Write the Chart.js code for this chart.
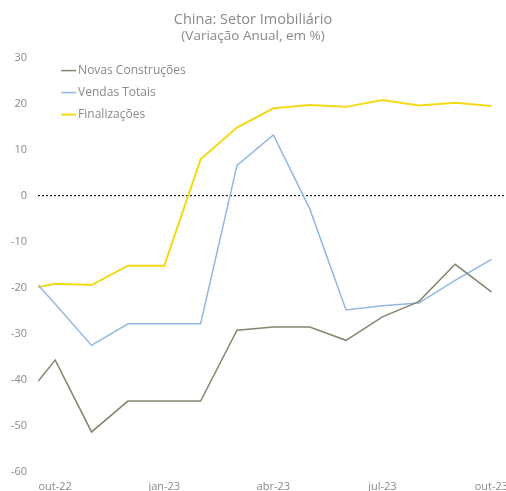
<!DOCTYPE html>
<html>
<head>
<meta charset="utf-8">
<script src="https://cdn.jsdelivr.net/npm/chart.js@4/dist/chart.umd.min.js"></script>
<style>
  html, body { margin: 0; padding: 0; background: #fff; }
  #wrap { width: 506px; height: 491px; }
</style>
</head>
<body>
<div id="wrap"><canvas id="grafico"></canvas></div>
<script>
// meses: índice 0 = out-22 ... 12 = out-23 (primeiro ponto fica meio mês antes)
const meses = [-0.47, 0, 1, 2, 3, 4, 5, 6, 7, 8, 9, 10, 11, 12];
const rotulosPos = [0, 3, 6, 9, 12];
const rotulos = ['out-22', 'jan-23', 'abr-23', 'jul-23', 'out-23'];

const novasConstrucoes = [-40.3, -35.7, -51.3, -44.6, -44.6, -44.6, -29.2, -28.5, -28.5, -31.4, -26.3, -23.0, -14.9, -20.9];
const vendasTotais = [-19.4, -23.5, -32.5, -27.8, -27.8, -27.8, 6.6, 13.2, -2.8, -24.8, -23.9, -23.3, -18.4, -13.8];
const finalizacoes = [-19.8, -19.1, -19.4, -15.2, -15.2, 7.9, 14.8, 19.0, 19.7, 19.3, 20.8, 19.6, 20.2, 19.5];

const corTexto = '#8a8a8a';
const fonte = "'Open Sans', sans-serif";

function pontos(valores) {
    return valores.map((v, i) => ({ x: meses[i], y: v }));
}

// legenda dentro da área do gráfico, como no original
const legendaInterna = {
    id: 'legendaInterna',
    afterDraw(chart) {
        const ctx = chart.ctx;
        const area = chart.chartArea;
        ctx.save();
        ctx.font = "12px " + fonte;
        ctx.textBaseline = 'middle';
        chart.data.datasets.forEach((ds, i) => {
            const x = area.left + 23;
            const y = area.top + 13 + i * 22;
            ctx.strokeStyle = ds.borderColor;
            ctx.lineWidth = ds.borderWidth;
            ctx.beginPath();
            ctx.moveTo(x, y);
            ctx.lineTo(x + 15, y);
            ctx.stroke();
            ctx.fillStyle = corTexto;
            ctx.fillText(ds.label, x + 17, y);
        });
        ctx.restore();
    }
};

const chart = new Chart(document.getElementById('grafico'), {
    type: 'line',
    data: {
        datasets: [
            {
                label: 'Novas Construções',
                data: pontos(novasConstrucoes),
                borderColor: '#858670',
                borderWidth: 1.5
            },
            {
                label: 'Vendas Totais',
                data: pontos(vendasTotais),
                borderColor: '#93b7e4',
                borderWidth: 1.5
            },
            {
                label: 'Finalizações',
                data: pontos(finalizacoes),
                borderColor: '#f3d916',
                borderWidth: 2
            }
        ]
    },
    options: {
        responsive: true,
        maintainAspectRatio: false,
        animation: false,
        elements: {
            point: { radius: 0 },
            line: { tension: 0 }
        },
        layout: {
            padding: { top: 11, right: 0, left: 0, bottom: -2 }
        },
        plugins: {
            legend: { display: false },
            tooltip: { enabled: false },
            title: {
                display: true,
                text: 'China: Setor Imobiliário',
                color: corTexto,
                font: { family: fonte, size: 14.5, weight: 'normal' },
                padding: { top: 0, bottom: 0 }
            },
            subtitle: {
                display: true,
                text: '(Variação Anual, em %)',
                color: corTexto,
                font: { family: fonte, size: 13.5 },
                padding: { top: 0, bottom: 13 }
            }
        },
        scales: {
            x: {
                type: 'linear',
                min: -0.47,
                max: 12.4,
                afterBuildTicks: (scale) => {
                    scale.ticks = rotulosPos.map(v => ({ value: v }));
                },
                afterFit: (scale) => {
                    scale.paddingRight = 0;
                },
                grid: { display: false },
                border: { display: false },
                ticks: {
                    color: corTexto,
                    font: { family: fonte, size: 11, lineHeight: 1 },
                    maxRotation: 0,
                    padding: 1,
                    callback: (v) => rotulos[rotulosPos.indexOf(v)]
                }
            },
            y: {
                min: -60,
                max: 30,
                ticks: {
                    stepSize: 10,
                    color: corTexto,
                    font: { family: fonte, size: 11 },
                    padding: 11
                },
                grid: {
                    drawTicks: false,
                    lineWidth: 1.2,
                    color: (ctx) => ctx.tick && ctx.tick.value === 0 ? '#222' : 'rgba(0,0,0,0)'
                },
                border: { display: false, dash: [2, 2] }
            }
        }
    },
    plugins: [legendaInterna]
});
</script>
</body>
</html>
